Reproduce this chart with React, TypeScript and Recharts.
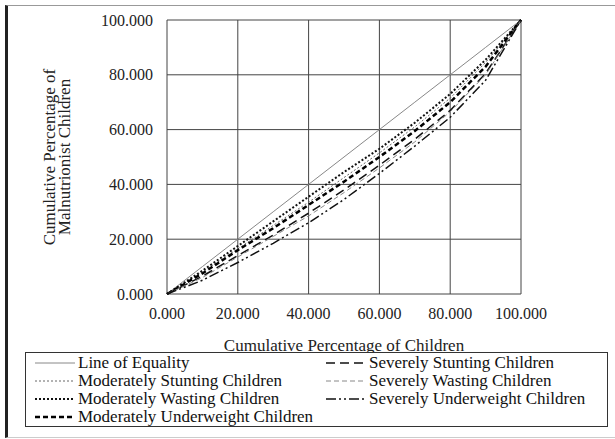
import { CartesianGrid, Legend, Line, LineChart, XAxis, YAxis } from 'recharts'

// cumulative % of children (x) and cumulative % of malnourished children per group (y)
const pctChildren = [0, 10, 20, 30, 40, 50, 60, 70, 80, 90, 100]
const equality = [0, 10, 20, 30, 40, 50, 60, 70, 80, 90, 100]
const modStunting = [0, 8, 16.5, 25, 33.5, 42.5, 51.5, 61, 71.5, 84.5, 100]
const modWasting = [0, 8.5, 17.5, 26.5, 35.5, 44.5, 53, 62.5, 73, 85.5, 100]
const modUnderweight = [0, 7.5, 16, 24, 32.5, 41, 50, 59.5, 70, 83, 100]
const sevStunting = [0, 6.5, 14, 21.5, 29.5, 38, 47, 56.5, 67, 80.5, 100]
const sevWasting = [0, 6, 13.5, 21, 28.5, 37, 46, 55.5, 66.5, 80, 100]
const sevUnderweight = [0, 5, 11.5, 18.5, 26, 34.5, 44, 54, 64.5, 78, 100]

const xTicks = [0, 20, 40, 60, 80, 100]
const yTicks = [0, 20, 40, 60, 80, 100]

interface SeriesDef {
  key: string
  name: string
  values: number[]
  stroke: string
  width: number
  dash?: string
  col: number
  row: number
}

const series: SeriesDef[] = [
  { key: 'eq', name: 'Line of Equality', values: equality, stroke: '#888', width: 1, col: 0, row: 0 },
  { key: 'ms', name: 'Moderately Stunting Children', values: modStunting, stroke: '#666', width: 1, dash: '2 2', col: 0, row: 1 },
  { key: 'mw', name: 'Moderately Wasting Children', values: modWasting, stroke: '#111', width: 2, dash: '2 2', col: 0, row: 2 },
  { key: 'mu', name: 'Moderately Underweight Children', values: modUnderweight, stroke: '#000', width: 2.5, dash: '5 3', col: 0, row: 3 },
  { key: 'ss', name: 'Severely Stunting Children', values: sevStunting, stroke: '#111', width: 1.5, dash: '9 5', col: 1, row: 0 },
  { key: 'sw', name: 'Severely Wasting Children', values: sevWasting, stroke: '#888', width: 1, dash: '5 3', col: 1, row: 1 },
  { key: 'su', name: 'Severely Underweight Children', values: sevUnderweight, stroke: '#111', width: 1.5, dash: '10 3 2 3 2 3', col: 1, row: 2 },
]

const rows = pctChildren.map((x, i) => {
  const row: Record<string, number> = { x }
  series.forEach((s) => {
    row[s.key] = s.values[i]
  })
  return row
})

const FONT = '"Liberation Serif", "Times New Roman", serif'

function LegendBox() {
  return (
    <div
      style={{
        width: 583,
        height: 75,
        boxSizing: 'border-box',
        border: '1px solid #333',
        position: 'relative',
        background: '#fff',
        fontFamily: FONT,
        fontSize: 17,
        color: '#111',
      }}
    >
      {series.map((s) => (
        <div
          key={s.key}
          style={{
            position: 'absolute',
            left: s.col ? 300 : 9,
            top: 1 + s.row * 18,
            height: 18,
            display: 'flex',
            alignItems: 'center',
            whiteSpace: 'nowrap',
          }}
        >
          <svg width={40} height={18}>
            <line x1={0} y1={9} x2={40} y2={9} stroke={s.stroke} strokeWidth={s.width} strokeDasharray={s.dash} />
          </svg>
          <span style={{ marginLeft: 3 }}>{s.name}</span>
        </div>
      ))}
    </div>
  )
}

// two-line rotated title for the y axis
function YTitle(props: any) {
  const { x, y, height } = props.viewBox
  const cx = x + 55
  const cy = y + height / 2
  return (
    <text transform={`rotate(-90, ${cx}, ${cy})`} x={cx} y={cy} textAnchor="middle" fontFamily={FONT} fontSize={17} fill="#222">
      <tspan x={cx} dy={0}>Cumulative Percentage of</tspan>
      <tspan x={cx} dy={15}>Malnutrionist Children</tspan>
    </text>
  )
}

export default function App() {
  return (
    <div style={{ position: 'absolute', left: 0, top: 0, width: 615, height: 439, background: '#fff' }}>
      <div
        style={{
          position: 'absolute',
          left: 5,
          top: 5,
          width: 610,
          height: 433,
          boxSizing: 'border-box',
          borderLeft: '3px solid #222',
          borderTop: '1px solid #999',
          borderBottom: '1px solid #ccc',
        }}
      />
      <LineChart
        width={615}
        height={439}
        data={rows}
        margin={{ top: 20, right: 94, left: 0, bottom: 85 }}
        style={{ position: 'absolute', left: 0, top: 0 }}
      >
        <CartesianGrid stroke="#444" strokeWidth={1} />
        <XAxis
          dataKey="x"
          type="number"
          domain={[0, 100]}
          ticks={xTicks}
          tickFormatter={(v: number) => v.toFixed(3)}
          axisLine={false}
          tickLine={false}
          tickSize={0}
          tickMargin={14}
          height={60}
          tick={{ fontFamily: FONT, fontSize: 16, fill: '#222' }}
          label={{ value: 'Cumulative Percentage of Children', position: 'insideBottom', offset: 3, fontFamily: FONT, fontSize: 17, fill: '#222' }}
        />
        <YAxis
          type="number"
          domain={[0, 100]}
          ticks={yTicks}
          tickFormatter={(v: number) => v.toFixed(3)}
          axisLine={false}
          tickLine={false}
          tickSize={0}
          tickMargin={14}
          width={167}
          tick={{ fontFamily: FONT, fontSize: 16, fill: '#222' }}
          label={<YTitle />}
        />
        <Legend
          layout="horizontal"
          verticalAlign="middle"
          align="center"
          content={() => <LegendBox />}
          wrapperStyle={{ left: 25, top: 352, width: 583, height: 75 }}
        />
        {series.map((s) => (
          <Line
            key={s.key}
            dataKey={s.key}
            name={s.name}
            type="linear"
            stroke={s.stroke}
            strokeWidth={s.width}
            strokeDasharray={s.dash}
            dot={false}
            activeDot={false}
            isAnimationActive={false}
          />
        ))}
      </LineChart>
    </div>
  )
}
